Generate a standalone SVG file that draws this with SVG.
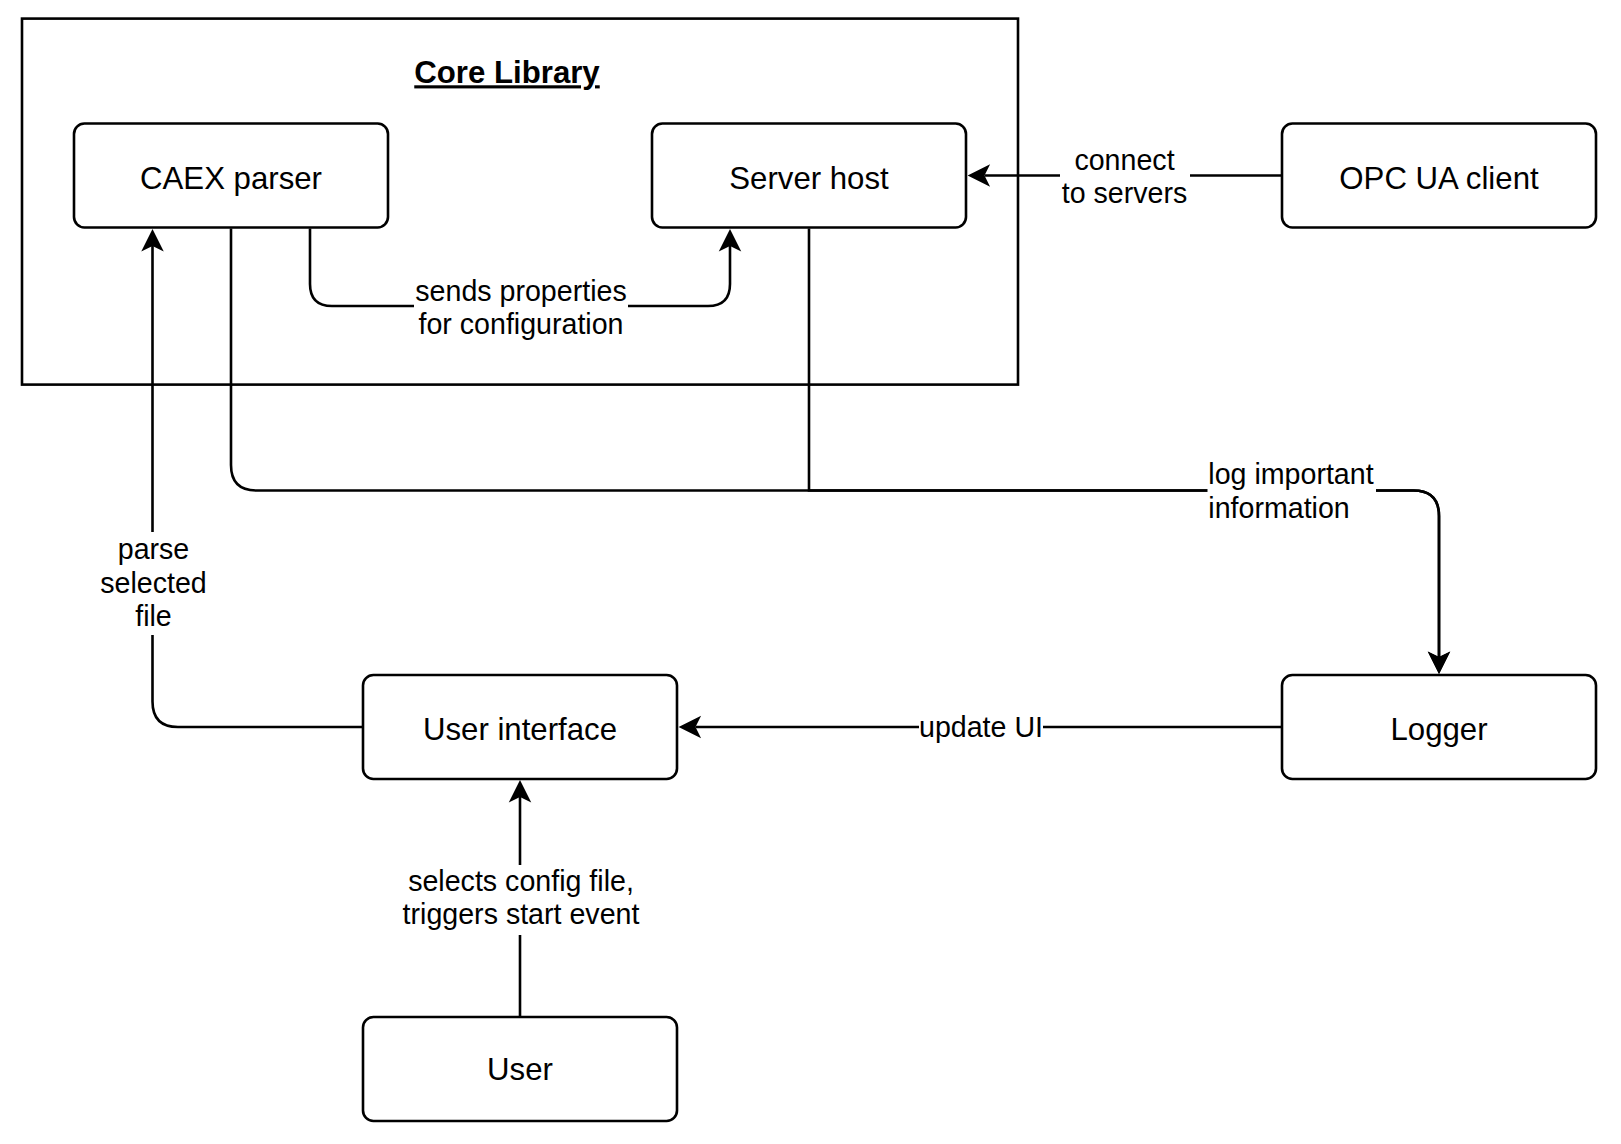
<svg xmlns="http://www.w3.org/2000/svg" width="1621" height="1144" viewBox="0 0 1621 1144">
<style>
.box{fill:#fff;stroke:#000;stroke-width:2.6}
.t{font-family:"Liberation Sans",Arial,sans-serif;fill:#000}
.nt{font-size:31.2px;text-anchor:middle}
.et{font-size:28.6px;text-anchor:middle}
.edge{fill:none;stroke:#000;stroke-width:2.6;marker-end:url(#arr)}
.bg{fill:#fff}
</style>
<defs>
<marker id="arr" markerUnits="userSpaceOnUse" markerWidth="24" markerHeight="24" viewBox="0 0 24 24" refX="6.6" refY="12" orient="auto">
<path d="M23.5,12 L1,0.75 L6.6,12 L1,23.25 Z" fill="#000"/>
</marker>
</defs>
<rect width="1621" height="1144" fill="#fff"/>
<g id="core-library">
<rect x="22" y="18.6" width="996" height="366" fill="none" stroke="#000" stroke-width="2.6"/>
<text class="t" x="507" y="83.3" font-size="31.2" font-weight="bold" text-anchor="middle" text-decoration="underline">Core Library</text>
</g>
<g id="connectors">
<path class="edge" d="M1282,175.5 H984.5"/>
<path class="edge" d="M310,228.5 V284 Q310,306 332,306 H708 Q730,306 730,284 V246"/>
<path class="edge" d="M363,727 H178 Q152.5,727 152.5,701.5 V246"/>
<path class="edge" d="M520,1017 V797"/>
<path class="edge" d="M1282,727 H695.5"/>
<path class="edge" d="M231,228.5 V465 Q231,490.5 256.5,490.5 H1413.5 Q1439,490.5 1439,516 V657"/>
<path class="edge" d="M809,228.5 V490.5 H1413.5 Q1439,490.5 1439,516 V657"/>
<rect class="bg" x="1060" y="145" width="130" height="65"/>
<text class="t et" x="1124.5" y="170">connect</text>
<text class="t et" x="1124.5" y="203">to servers</text>
<rect class="bg" x="414" y="279" width="214" height="62"/>
<text class="t et" x="521" y="300.5">sends properties</text>
<text class="t et" x="521" y="334">for configuration</text>
<rect class="bg" x="100" y="532" width="107" height="103"/>
<text class="t et" x="153.5" y="559">parse</text>
<text class="t et" x="153.5" y="592.5">selected</text>
<text class="t et" x="153.5" y="626">file</text>
<rect class="bg" x="400" y="865" width="242" height="70"/>
<text class="t et" x="521" y="891">selects config file,</text>
<text class="t et" x="521" y="924">triggers start event</text>
<rect class="bg" x="919" y="710" width="124" height="32"/>
<text class="t et" x="981" y="737">update UI</text>
<rect class="bg" x="1207.5" y="460" width="168.5" height="36"/>
<text class="t" x="1208.3" y="484.3" font-size="28.6">log important</text>
<text class="t" x="1208.3" y="518.3" font-size="28.6">information</text>
</g>
<g id="caex-parser">
<rect class="box" x="74" y="123.5" width="314" height="104" rx="10.4"/>
<text class="t nt" x="231" y="189">CAEX parser</text>
</g>
<g id="server-host">
<rect class="box" x="652" y="123.5" width="314" height="104" rx="10.4"/>
<text class="t nt" x="809" y="189">Server host</text>
</g>
<g id="opc-ua-client">
<rect class="box" x="1282" y="123.5" width="314" height="104" rx="10.4"/>
<text class="t nt" x="1439" y="189">OPC UA client</text>
</g>
<g id="user-interface">
<rect class="box" x="363" y="675" width="314" height="104" rx="10.4"/>
<text class="t nt" x="520" y="740">User interface</text>
</g>
<g id="logger">
<rect class="box" x="1282" y="675" width="314" height="104" rx="10.4"/>
<text class="t nt" x="1439" y="740">Logger</text>
</g>
<g id="user">
<rect class="box" x="363" y="1017" width="314" height="104" rx="10.4"/>
<text class="t nt" x="520" y="1080">User</text>
</g>
</svg>
